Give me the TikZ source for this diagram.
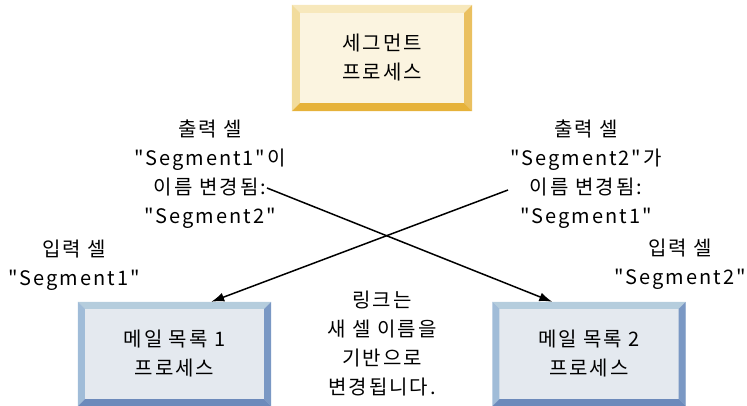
\documentclass[tikz,border=0pt]{standalone}
\usepackage{fontspec}
\setmainfont{Noto Sans CJK KR}[LetterSpace=10, Ligatures=TeXOff]
\usetikzlibrary{arrows.meta, positioning, calc}
\definecolor{yface}{HTML}{FBF4E0}
\definecolor{ytop}{HTML}{F7E8BC}
\definecolor{yleft}{HTML}{F2DC9C}
\definecolor{yright}{HTML}{EAC060}
\definecolor{ybottom}{HTML}{E6B23A}
\definecolor{bface}{HTML}{E4E9EF}
\definecolor{btop}{HTML}{B5CDDD}
\definecolor{bleft}{HTML}{A0BCD8}
\definecolor{bright}{HTML}{7A98C4}
\definecolor{bbottom}{HTML}{6C8ABB}
\tikzset{
  every picture/.style={font=\fontsize{20}{29}\selectfont},
  proc/.style={fill=#1, inner sep=0pt, align=center, minimum width=193pt, minimum height=104pt},
  lbl/.style={align=center, inner sep=0pt},
  arrow/.style={-{Latex[length=13pt, width=9pt]}, line width=1.5pt},
}
% bevelled edges of a box: name, depth, top, left, right, bottom
\newcommand{\bevel}[6]{%
  \fill[#3] (#1.north west) -- (#1.north east) -- ([shift={(-#2,-#2)}]#1.north east) -- ([shift={(#2,-#2)}]#1.north west) -- cycle;
  \fill[#4] (#1.north west) -- ([shift={(#2,-#2)}]#1.north west) -- ([shift={(#2,#2)}]#1.south west) -- (#1.south west) -- cycle;
  \fill[#5] (#1.north east) -- (#1.south east) -- ([shift={(-#2,#2)}]#1.south east) -- ([shift={(-#2,-#2)}]#1.north east) -- cycle;
  \fill[#6] (#1.south west) -- ([shift={(#2,#2)}]#1.south west) -- ([shift={(-#2,#2)}]#1.south east) -- (#1.south east) -- cycle;
}

\begin{document}
\begin{tikzpicture}[x=1pt, y=-1pt]
  \useasboundingbox (0,0) rectangle (747,406);
  \node[proc=yface, minimum width=180pt, minimum height=106pt] (seg) at (382,58) {세그먼트\\프로세스};
  \node[proc=bface] (m1) at (174.5,354) {메일 목록 1\\프로세스};
  \node[proc=bface] (m2) at (589,354) {메일 목록 2\\프로세스};
  \bevel{seg}{8pt}{ytop}{yleft}{yright}{ybottom}
  \bevel{m1}{7pt}{btop}{bleft}{bright}{bbottom}
  \bevel{m2}{7pt}{btop}{bleft}{bright}{bbottom}

  \node[lbl] (out1) at (210,174) {출력 셀\\"Segment1"이\\이름 변경됨:\\"Segment2"};
  \node[lbl] (out2) at (586,174) {출력 셀\\"Segment2"가\\이름 변경됨:\\"Segment1"};
  \node[lbl] (in1) at (74,265) {입력 셀\\"Segment1"};
  \node[lbl] (in2) at (680,264) {입력 셀\\"Segment2"};
  \node[lbl] (note) at (382,344) {링크는\\새 셀 이름을\\기반으로\\변경됩니다.};

  \coordinate (s1) at (267,188);
  \coordinate (s2) at (508,190);
  \draw[arrow] (s1) -- ([xshift=60pt]m2.north west);
  \draw[arrow] (s2) -- ([xshift=-60pt]m1.north east);
\end{tikzpicture}
\end{document}
